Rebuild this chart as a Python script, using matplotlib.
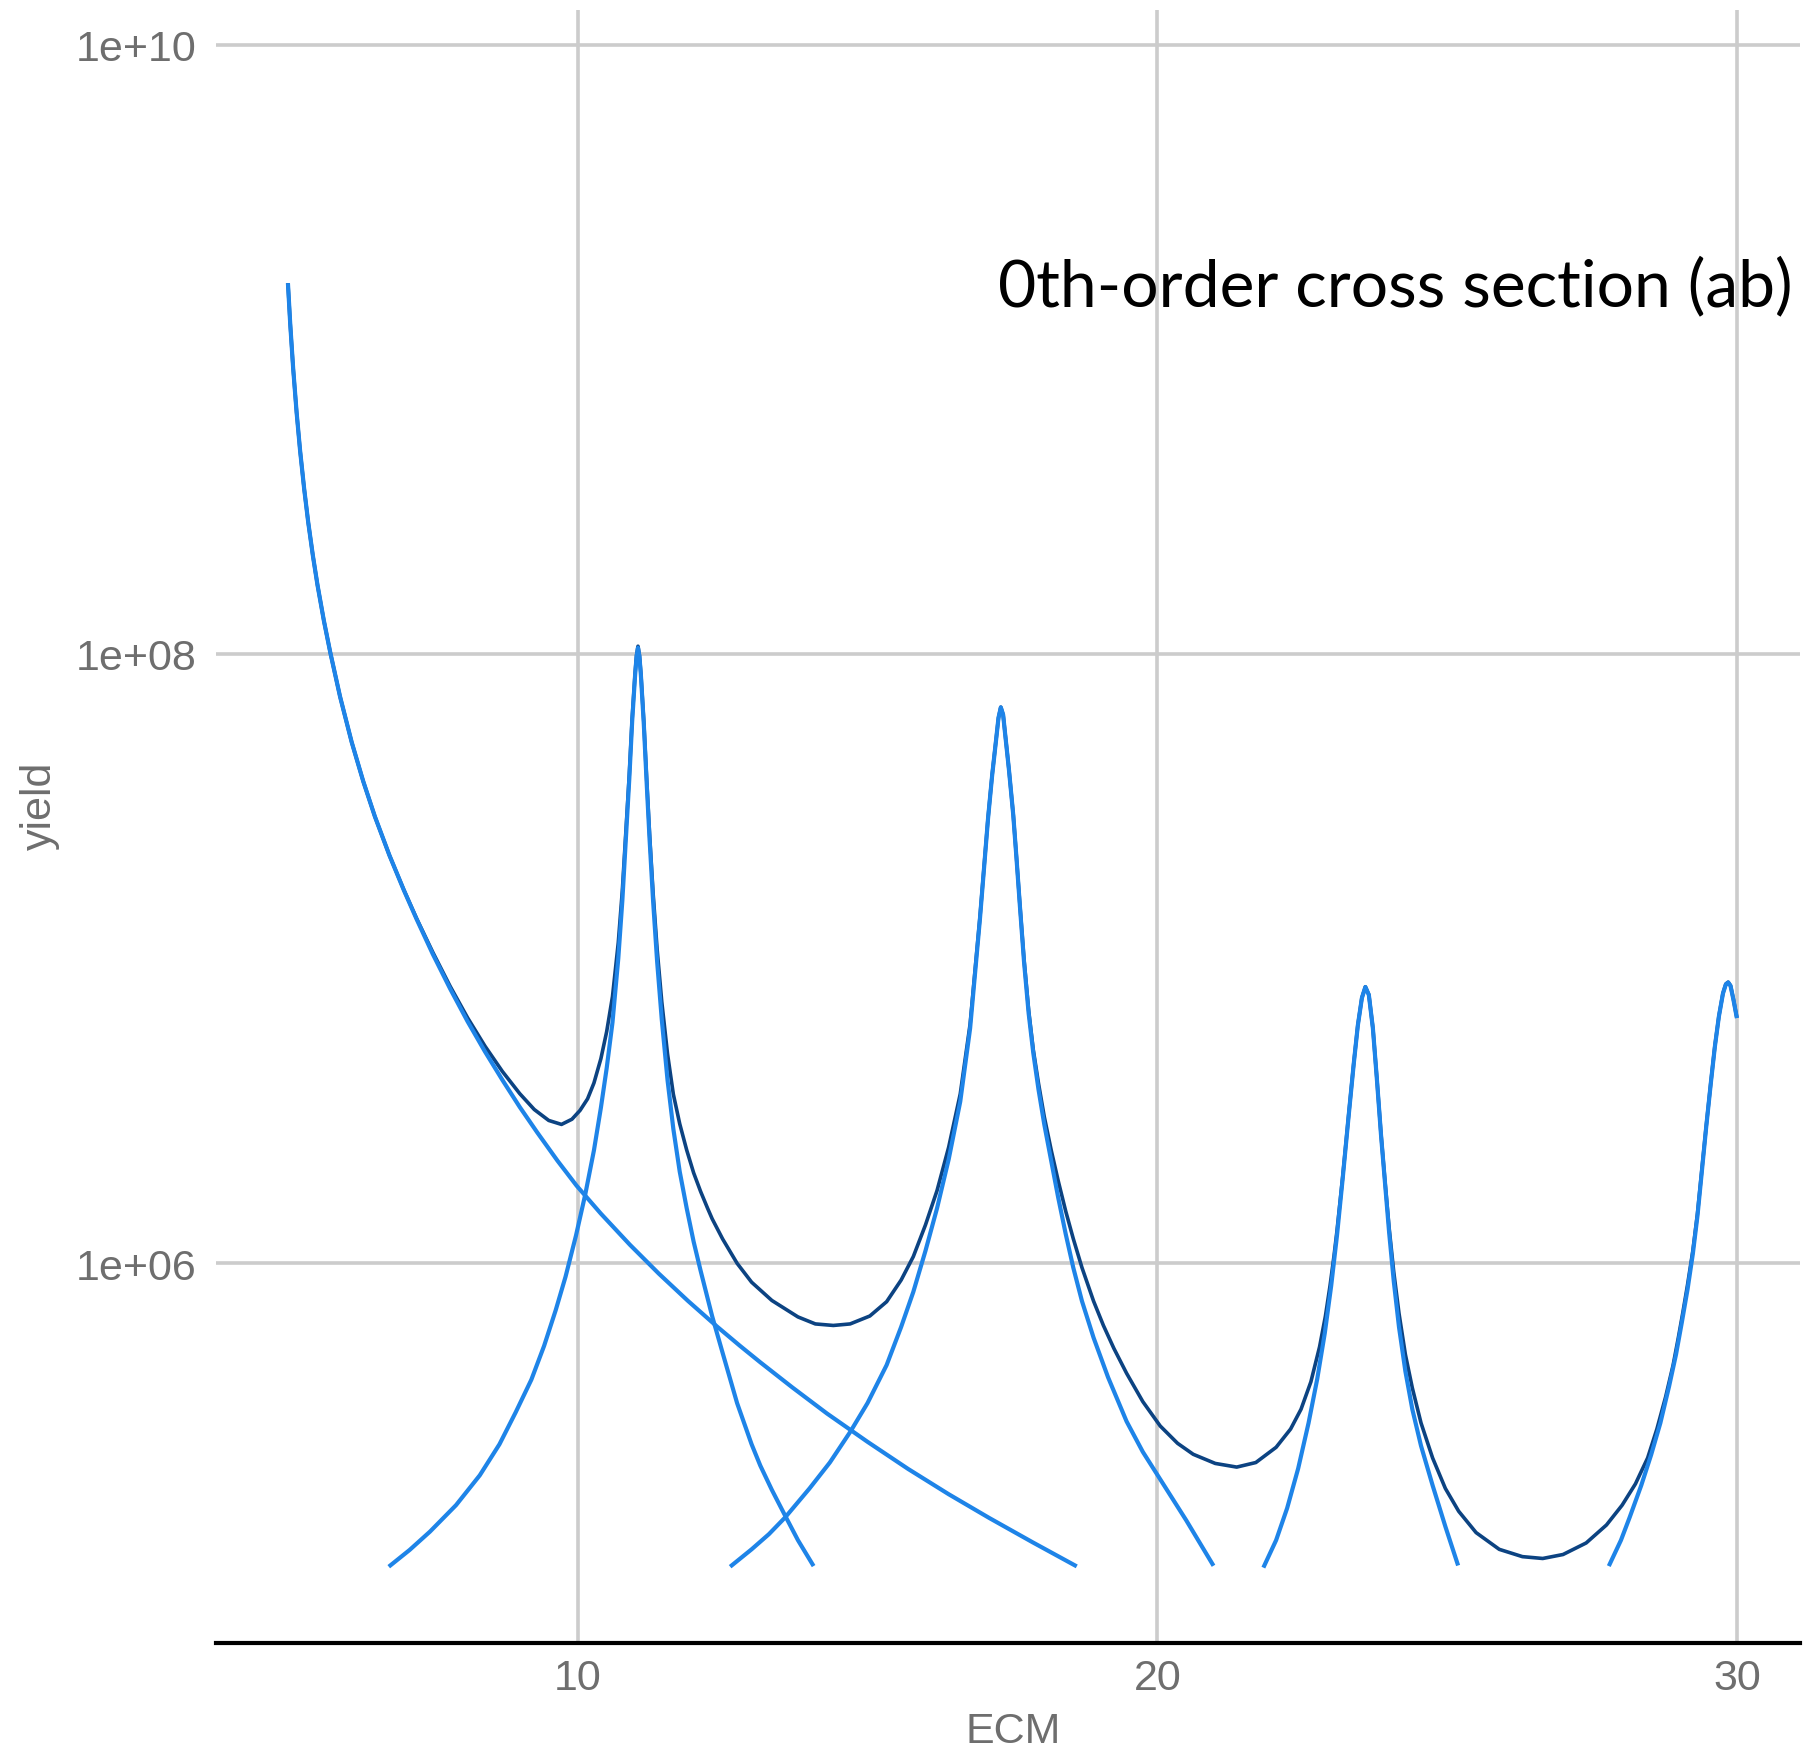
import matplotlib
matplotlib.use('Agg')
import matplotlib.pyplot as plt
from matplotlib.ticker import NullLocator

# values; yields are given as log10(yield) because the
# y axis is logarithmic, and converted just before plotting
ecm_bg = [5.00, 5.04, 5.09, 5.15, 5.21, 5.28, 5.35, 5.43, 5.51, 5.62,
          5.73, 5.90, 6.10, 6.30, 6.50, 6.75, 7.00, 7.22, 7.50, 7.80,
          8.10, 8.40, 8.70, 9.00, 9.30, 9.65, 9.98, 10.40, 10.90, 11.40,
          11.90, 12.40, 12.80, 13.15, 13.70, 14.30, 15.00, 15.70, 16.40, 17.10,
          17.85, 18.61]
log_bg = [9.217, 9.082, 8.938, 8.792, 8.667, 8.542, 8.432, 8.323, 8.226, 8.109,
          8.005, 7.859, 7.710, 7.581, 7.466, 7.339, 7.224, 7.129, 7.014, 6.900,
          6.793, 6.694, 6.601, 6.512, 6.429, 6.336, 6.254, 6.162, 6.060, 5.965,
          5.876, 5.792, 5.728, 5.674, 5.592, 5.506, 5.413, 5.324, 5.241, 5.163,
          5.083, 5.004]

ecm_r1 = [6.74, 7.10, 7.45, 7.90, 8.31, 8.65, 8.93, 9.20, 9.42, 9.62,
          9.79, 9.97, 10.13, 10.28, 10.40, 10.50, 10.60, 10.70, 10.77, 10.83,
          10.89, 10.94, 10.99, 11.015, 11.04, 11.065, 11.09, 11.14, 11.19, 11.24,
          11.30, 11.37, 11.45, 11.55, 11.65, 11.76, 11.88, 12.00, 12.12, 12.24,
          12.32, 12.50, 12.75, 13.00, 13.15, 13.35, 13.58, 13.80, 14.07]
log_r1 = [5.003, 5.058, 5.118, 5.205, 5.303, 5.405, 5.51, 5.617, 5.728, 5.845,
          5.955, 6.09, 6.225, 6.37, 6.51, 6.64, 6.79, 7.00, 7.19, 7.39,
          7.59, 7.78, 7.93, 7.99, 8.02, 7.99, 7.93, 7.77, 7.575, 7.39,
          7.19, 6.99, 6.80, 6.60, 6.44, 6.30, 6.18, 6.07, 5.975, 5.885,
          5.825, 5.705, 5.54, 5.405, 5.335, 5.255, 5.17, 5.09, 5.005]

ecm_r2 = [12.63, 13.00, 13.30, 13.58, 14.00, 14.35, 14.70, 15.00, 15.33, 15.58,
          15.79, 16.00, 16.20, 16.40, 16.60, 16.77, 16.94, 17.08, 17.15, 17.22,
          17.26, 17.30, 17.34, 17.37, 17.44, 17.515, 17.57, 17.63, 17.70, 17.78,
          17.86, 17.95, 18.05, 18.17, 18.29, 18.42, 18.55, 18.70, 18.90, 19.15,
          19.47, 19.75, 20.05, 20.50, 20.97]
log_r2 = [5.003, 5.06, 5.11, 5.165, 5.26, 5.345, 5.445, 5.54, 5.665, 5.79,
          5.905, 6.04, 6.18, 6.34, 6.53, 6.77, 7.13, 7.46, 7.60, 7.72,
          7.79, 7.824, 7.80, 7.745, 7.62, 7.47, 7.33, 7.17, 6.99, 6.82,
          6.69, 6.57, 6.455, 6.335, 6.215, 6.095, 5.985, 5.875, 5.755, 5.625,
          5.48, 5.38, 5.29, 5.155, 5.006]

ecm_r3 = [21.83, 22.05, 22.24, 22.43, 22.61, 22.76, 22.89, 23.00, 23.10, 23.20,
          23.30, 23.39, 23.46, 23.53, 23.59, 23.65, 23.72, 23.79, 23.86, 23.93,
          24.00, 24.08, 24.17, 24.28, 24.40, 24.55, 24.75, 24.97, 25.19]
log_r3 = [5.0, 5.09, 5.195, 5.325, 5.475, 5.62, 5.77, 5.925, 6.09, 6.28,
          6.48, 6.655, 6.78, 6.87, 6.906, 6.88, 6.77, 6.60, 6.42, 6.26,
          6.10, 5.94, 5.79, 5.645, 5.52, 5.40, 5.27, 5.135, 5.007]

ecm_r4 = [27.79, 28.00, 28.15, 28.35, 28.52, 28.68, 28.83, 28.95, 29.05, 29.15,
          29.24, 29.32, 29.39, 29.47, 29.55, 29.62, 29.69, 29.76, 29.81, 29.85,
          29.89, 29.94, 30.00]
log_r4 = [5.005, 5.09, 5.165, 5.27, 5.37, 5.475, 5.595, 5.70, 5.805, 5.915,
          6.03, 6.155, 6.29, 6.445, 6.59, 6.71, 6.81, 6.885, 6.915, 6.921,
          6.91, 6.865, 6.804]

ecm_tot = [5.00, 5.04, 5.09, 5.15, 5.21, 5.28, 5.35, 5.43, 5.51, 5.62,
           5.73, 5.90, 6.10, 6.30, 6.50, 6.75, 7.00, 7.22, 7.50, 7.80,
           8.10, 8.40, 8.70, 9.00, 9.25, 9.50, 9.72, 9.90, 10.04, 10.17,
           10.28, 10.40, 10.50, 10.60, 10.70, 10.77, 10.83, 10.89, 10.94, 10.99,
           11.015, 11.04, 11.065, 11.09, 11.14, 11.19, 11.24, 11.30, 11.37, 11.45,
           11.55, 11.65, 11.76, 11.88, 12.00, 12.12, 12.24, 12.32, 12.50, 12.75,
           13.00, 13.35, 13.80, 14.10, 14.41, 14.70, 15.04, 15.33, 15.58, 15.79,
           16.00, 16.20, 16.40, 16.60, 16.77, 16.94, 17.08, 17.15, 17.22, 17.26,
           17.30, 17.34, 17.37, 17.44, 17.515, 17.57, 17.63, 17.70, 17.78, 17.86,
           17.95, 18.05, 18.17, 18.29, 18.42, 18.55, 18.70, 18.90, 19.07, 19.25,
           19.47, 19.75, 20.05, 20.35, 20.62, 21.00, 21.37, 21.70, 22.05, 22.30,
           22.48, 22.65, 22.80, 22.90, 22.98, 23.05, 23.10, 23.20, 23.30, 23.39,
           23.46, 23.53, 23.59, 23.65, 23.72, 23.79, 23.86, 23.93, 24.00, 24.08,
           24.17, 24.28, 24.40, 24.55, 24.75, 24.97, 25.20, 25.50, 25.90, 26.30,
           26.65, 27.00, 27.40, 27.75, 28.02, 28.25, 28.46, 28.62, 28.77, 28.90,
           28.99, 29.07, 29.15, 29.24, 29.32, 29.39, 29.47, 29.55, 29.62, 29.69,
           29.76, 29.81, 29.85, 29.89, 29.94, 30.00]
log_tot = [9.217, 9.082, 8.938, 8.792, 8.667, 8.542, 8.432, 8.323, 8.226, 8.109,
           8.005, 7.859, 7.710, 7.581, 7.466, 7.339, 7.225, 7.131, 7.020, 6.908,
           6.805, 6.712, 6.629, 6.556, 6.504, 6.468, 6.455, 6.472, 6.501, 6.539,
           6.591, 6.671, 6.760, 6.875, 7.052, 7.223, 7.411, 7.603, 7.789, 7.936,
           7.995, 8.025, 7.995, 7.935, 7.778, 7.587, 7.407, 7.216, 7.030, 6.858,
           6.686, 6.554, 6.457, 6.371, 6.296, 6.235, 6.180, 6.145, 6.079, 5.999,
           5.937, 5.877, 5.823, 5.800, 5.795, 5.800, 5.826, 5.873, 5.944, 6.021,
           6.125, 6.238, 6.380, 6.555, 6.784, 7.135, 7.462, 7.602, 7.721, 7.790,
           7.825, 7.800, 7.746, 7.621, 7.471, 7.332, 7.174, 6.997, 6.830, 6.700,
           6.590, 6.480, 6.370, 6.270, 6.170, 6.080, 5.985, 5.875, 5.795, 5.720,
           5.638, 5.545, 5.465, 5.408, 5.372, 5.342, 5.330, 5.345, 5.395, 5.455,
           5.520, 5.610, 5.725, 5.825, 5.925, 6.025, 6.105, 6.285, 6.483, 6.657,
           6.781, 6.871, 6.907, 6.881, 6.771, 6.602, 6.423, 6.265, 6.115, 5.970,
           5.835, 5.700, 5.590, 5.475, 5.360, 5.260, 5.185, 5.115, 5.060, 5.036,
           5.030, 5.043, 5.081, 5.140, 5.205, 5.275, 5.360, 5.455, 5.560, 5.665,
           5.755, 5.840, 5.930, 6.040, 6.162, 6.295, 6.448, 6.592, 6.712, 6.811,
           6.886, 6.916, 6.922, 6.911, 6.866, 6.805]

x_ticks = [10, 20, 30]
y_ticks = [1e6, 1e8, 1e10]
y_ticklabels = ['1e+06', '1e+08', '1e+10']

light = '#1e84e8'
dark = '#0c4382'
grey = '#6e6e6e'


def unlog(vals):
    return [10 ** v for v in vals]


fig = plt.figure(figsize=(18.05, 17.58), dpi=100)
ax = fig.add_axes([216 / 1805, 1 - 1644 / 1758, 1584 / 1805, 1633 / 1758])
ax.set_yscale('log')

# total first, the single contributions on top of it
ax.plot(ecm_tot, unlog(log_tot), color=dark, lw=2.6,
        solid_capstyle='butt', solid_joinstyle='round')
for xs, ys in [(ecm_bg, log_bg), (ecm_r1, log_r1), (ecm_r2, log_r2),
               (ecm_r3, log_r3), (ecm_r4, log_r4)]:
    ax.plot(xs, unlog(ys), color=light, lw=3.0,
            solid_capstyle='butt', solid_joinstyle='round')

ax.set_xlim(3.759, 31.089)
ax.set_ylim(10 ** 4.7525, 10 ** 10.1136)
ax.set_xticks(x_ticks)
ax.set_yticks(y_ticks)
ax.set_yticklabels(y_ticklabels)
ax.yaxis.set_minor_locator(NullLocator())
ax.grid(True, color='#cccccc', lw=2.6)
ax.set_axisbelow(True)

for side in ['left', 'right', 'top']:
    ax.spines[side].set_visible(False)
ax.spines['bottom'].set_color('black')
ax.spines['bottom'].set_linewidth(3)

ax.tick_params(length=0, labelsize=31, labelcolor=grey)
ax.tick_params(axis='y', pad=14)
ax.tick_params(axis='x', pad=11)
for lab in ax.get_xticklabels() + ax.get_yticklabels():
    lab.set_family('Liberation Sans')

ax.set_xlabel('ECM', fontsize=31, color=grey, family='Liberation Sans', va='center')
ax.xaxis.set_label_coords(0.503, -0.0539)
ax.set_ylabel('yield', fontsize=31, color=grey, family='Liberation Sans', va='center')
ax.yaxis.set_label_coords(-0.111, 0.513)

fig.text(1793 / 1805, 1 - 287 / 1758, '0th-order cross section (ab)', ha='right',
         va='center', fontsize=47.5, family='Lato', color='black')

fig.savefig('out.png', dpi=100, facecolor='white')
